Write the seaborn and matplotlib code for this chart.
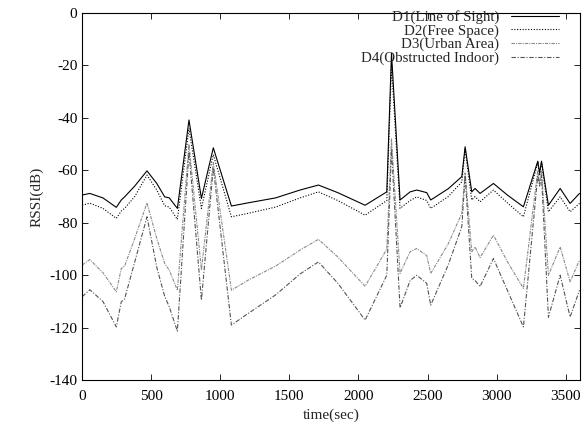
import matplotlib
matplotlib.use("Agg")
import matplotlib.pyplot as plt
import seaborn as sns
import pandas as pd

time_sec = [0, 55, 150, 247, 283, 307, 380, 469, 540, 597, 630, 689, 773, 863, 949,
            1080, 1200, 1400, 1577, 1710, 1850, 2048, 2205, 2239, 2301, 2374, 2422,
            2494, 2523, 2650, 2748, 2772, 2820, 2844, 2880, 2977, 3080, 3194, 3298,
            3311, 3325, 3375, 3460, 3532, 3600]

d1_los = [-69.4, -68.8, -70.5, -74.1, -71.3, -70.1, -66, -60.2, -65, -70.1, -70.5, -74.5,
          -40.8, -70.7, -51.4, -73.6, -72.4, -70.5, -67.5, -65.6, -68.5, -73.3, -68.2,
          -15.4, -71.3, -68.2, -67.5, -68.5, -71.3, -67, -62.4, -51, -68.2, -66.9, -68.8,
          -65, -69.5, -73.9, -56.5, -61, -56.5, -73.3, -66.9, -72.6, -68.8]

d2_free = [-73.3, -72.5, -74.5, -78.3, -75.5, -74.5, -70, -61.8, -67.5, -73.5, -74, -78.7,
           -44, -74.5, -54, -77.7, -76.4, -74, -70.5, -68.2, -71.5, -77.1, -71.5,
           -20, -74.5, -71.5, -70.1, -71.5, -74.5, -70, -64.4, -52, -71.3, -70, -72,
           -67.5, -72.5, -77.7, -57, -62, -57, -75.8, -70.1, -75.8, -72.6]

d3_urban = [-96.1, -94, -99, -106.3, -97.4, -96.5, -86, -72.4, -86, -95.5, -98, -105.7,
            -50, -98, -57, -105.7, -101.9, -96.5, -90.4, -86.3, -93, -104.2, -90,
            -48, -99.3, -91, -89.8, -92.5, -99.3, -88, -76.4, -61, -91, -89.2, -93.3,
            -84.7, -95, -105, -60, -65, -60, -100, -89.2, -102.5, -94.2]

d4_indoor = [-108.2, -105.5, -110, -119.7, -110.1, -109, -95, -77.7, -97, -108, -112, -121.3,
             -53, -109.5, -59, -119, -114.6, -107.5, -99.5, -94.9, -103, -117.1, -100,
             -52, -112.4, -102, -100, -103.1, -111.4, -96, -81.5, -62, -101.2, -102, -104.3,
             -93.6, -106, -119.7, -62, -66, -62, -116, -100, -115.9, -105.7]

labels = ["D1(Line of Sight)", "D2(Free Space)", "D3(Urban Area)", "D4(Obstructed Indoor)"]
series = [d1_los, d2_free, d3_urban, d4_indoor]
colors = ["#000000", "#000000", "#8a8a8a", "#555555"]
dashes = [(None, None), (1, 1.5), (3, 1, 1, 1), (4, 1.5, 1, 1.5)]

sns.set_style("ticks")
plt.rcParams['font.family'] = ['Liberation Serif', 'DejaVu Serif']
plt.rcParams['axes.unicode_minus'] = False
plt.rcParams['xtick.direction'] = 'in'
plt.rcParams['ytick.direction'] = 'in'
plt.rcParams['xtick.top'] = True
plt.rcParams['ytick.right'] = True

fig = plt.figure(figsize=(5.83, 4.33), dpi=100)
ax = fig.add_axes([0.141, 0.122, 0.853, 0.848])

for lab, vals, col, ds in zip(labels, series, colors, dashes):
    df = pd.DataFrame({"time": time_sec, "rssi": vals})
    sns.lineplot(data=df, x="time", y="rssi", ax=ax, color=col, linewidth=0.8,
                 label=lab, estimator=None, sort=False)
    line = ax.get_lines()[-1]
    if ds[0] is not None:
        line.set_dashes(ds)

ax.set_xlim(0, 3600)
ax.set_ylim(-140, 0)
ax.set_xticks(range(0, 3501, 500))
ax.set_yticks(range(-140, 1, 20))
ax.tick_params(axis='both', which='major', length=4, width=0.6, labelsize=11, colors='black')
ax.tick_params(axis='x', pad=7)
for sp in ax.spines.values():
    sp.set_linewidth(0.8)
    sp.set_color('black')
ax.set_xlabel("time(sec)", fontsize=11)
ax.set_ylabel("RSSI(dB)", fontsize=11)

leg = ax.legend(loc='upper right', bbox_to_anchor=(0.962, 1.012), frameon=False,
                markerfirst=False, fontsize=10.8, handlelength=3.2, labelspacing=0.0,
                borderaxespad=0.0, borderpad=0.1, handletextpad=0.8)

fig.savefig("out.png", dpi=100)
